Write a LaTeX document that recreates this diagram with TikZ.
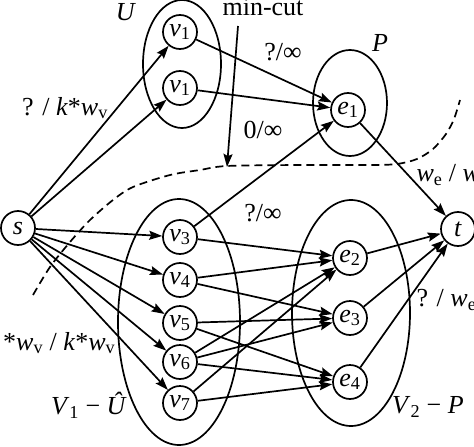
\documentclass[tikz,border=0pt]{standalone}
\usepackage{fontspec}
\setmainfont{Liberation Serif}
\usetikzlibrary{arrows.meta}
\begin{document}
\begin{tikzpicture}[x=1pt,y=-1pt,
  every node/.style={font=\fontsize{26}{30}\selectfont},
  gnode/.style={circle,draw,line width=1.7pt,minimum size=34pt,inner sep=0pt},
  edge/.style={line width=1.7pt,-{Stealth[length=13pt,width=9pt,inset=2pt]}},
  setline/.style={line width=1.7pt},
  cutline/.style={line width=1.7pt,dash pattern=on 8pt off 5pt}]
\useasboundingbox (0,0) rectangle (474,447);
% sets
\draw[setline] (182,64) ellipse [x radius=39, y radius=64];
\draw[setline] (350,103) ellipse [x radius=37, y radius=53];
\draw[setline] (179,322) ellipse [x radius=61, y radius=123];
\draw[setline] (351,313) ellipse [x radius=59, y radius=113];
% nodes
\node[gnode] (s) at (18,228) {\textit{s}};
\node[gnode] (v1a) at (180,32) {\textit{v}\textsubscript{1}};
\node[gnode] (v1b) at (180,88) {\textit{v}\textsubscript{1}};
\node[gnode] (v3) at (180,237) {\textit{v}\textsubscript{3}};
\node[gnode] (v4) at (180,280) {\textit{v}\textsubscript{4}};
\node[gnode] (v5) at (180,323) {\textit{v}\textsubscript{5}};
\node[gnode] (v6) at (180,362) {\textit{v}\textsubscript{6}};
\node[gnode] (v7) at (180,403) {\textit{v}\textsubscript{7}};
\node[gnode] (e1) at (348,110) {\textit{e}\textsubscript{1}};
\node[gnode] (e2) at (350,258) {\textit{e}\textsubscript{2}};
\node[gnode] (e3) at (350,318) {\textit{e}\textsubscript{3}};
\node[gnode] (e4) at (350,382) {\textit{e}\textsubscript{4}};
\node[gnode] (t) at (458,229) {\textit{t}};
% cut
\draw[cutline] plot[smooth] coordinates {(33,295) (50,267) (70,242) (90,220) (113,200) (133,187) (170,175) (200,170) (227,166) (300,165) (370,165) (397,164) (417,159) (433,149) (446,134) (454,119) (460,100)};
% labels
\node (lU) at (126,12) {\textit{U}};
\node (lP) at (380,43) {\textit{P}};
\node[anchor=base] (lcut) at (263,15) {min-cut};
\coordinate (mc1) at (238,26);
\coordinate (mc2) at (227,167);
\draw[edge] (mc1) -- (mc2);
\node (l1) at (65,108) {? / \textit{k}*\textit{w}\textsubscript{v}};
\node (l2) at (283,52) {?/∞};
\node (l3) at (263,130) {0/∞};
\node[anchor=west] (l4) at (413,175) {\textit{w}\textsubscript{e} / \textit{w}\textsubscript{e}};
\node (l5) at (263,213) {?/∞};
\node[anchor=west] (l6) at (413,300) {? / \textit{w}\textsubscript{e}};
\node[anchor=west,inner sep=0pt] (l7) at (3,343) {*\textit{w}\textsubscript{v} / \textit{k}*\textit{w}\textsubscript{v}};
\node (l8) at (89,405) {\textit{V}\textsubscript{1} − \textit{Û}};
\node (l9) at (428,407) {\textit{V}\textsubscript{2} − \textit{P}};
% edges
\foreach \a/\b in {s/v1a,s/v1b,s/v3,s/v4,s/v5,s/v6,s/v7,
  v1a/e1,v1b/e1,v3/e1,
  v3/e2,v4/e2,v4/e3,v5/e3,v5/e4,v6/e2,v6/e3,v6/e4,v7/e2,v7/e4,
  e1/t,e2/t,e3/t,e4/t}
  \draw[edge] (\a) -- (\b);
\end{tikzpicture}
\end{document}
